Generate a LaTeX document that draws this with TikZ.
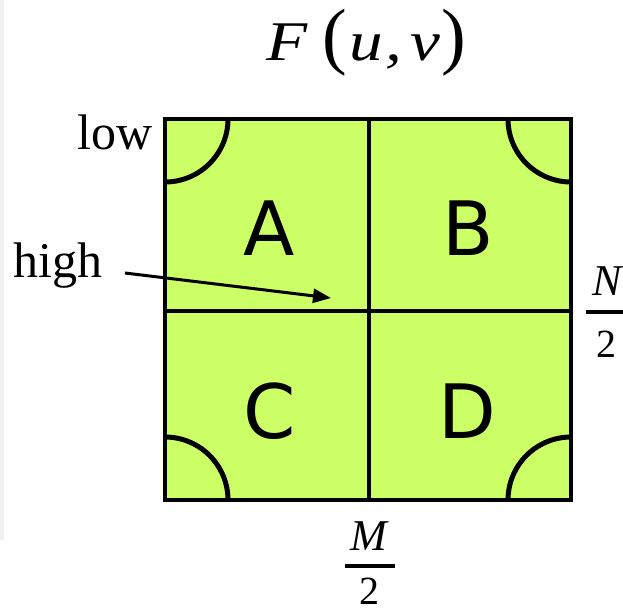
\documentclass[tikz,border=0pt]{standalone}
\usepackage{fontspec}
\setmainfont{Liberation Serif}
\newfontfamily\lettersf{DejaVu Sans}
\newfontfamily\titlefont[FakeStretch=1.2]{Liberation Serif}
\usetikzlibrary{arrows.meta}
\definecolor{quadgreen}{RGB}{204,255,102}
\begin{document}
\begin{tikzpicture}[x=1pt,y=-1pt,
  lbl/.style={inner sep=0pt, font=\fontsize{50}{50}\selectfont},
  quad/.style={inner sep=0pt, anchor=base, font=\lettersf\fontsize{75}{75}\selectfont},
  fracnum/.style={inner sep=0pt, anchor=base, font=\fontsize{44}{44}\selectfont\itshape},
  fracden/.style={inner sep=0pt, anchor=base, font=\fontsize{40}{40}\selectfont},
  fracbar/.style={line width=3.2pt},
  frame/.style={line width=3.4pt},
  divider/.style={line width=3.4pt},
  corner/.style={line width=5pt},
  pointer/.style={line width=3pt, -{Triangle[length=18pt,width=14pt]}}]
\useasboundingbox (0,0) rectangle (623,611);
\fill[white] (0,0) rectangle (623,611);
\fill[gray!12] (0,0) rectangle (4,540);
% square
\coordinate (tl) at (165,119);
\coordinate (br) at (571,500);
\coordinate (tm) at (369,119);
\coordinate (bm) at (369,500);
\coordinate (lm) at (165,311);
\coordinate (rm) at (571,311);
\fill[quadgreen] (tl) rectangle (br);
\begin{scope}
  \clip (tl) rectangle (br);
  \draw[corner] (165,119) circle[radius=63pt];
  \draw[corner] (571,119) circle[radius=63pt];
  \draw[corner] (165,500) circle[radius=63pt];
  \draw[corner] (571,500) circle[radius=63pt];
\end{scope}
\draw[divider] (tm) -- (bm);
\draw[divider] (lm) -- (rm);
\draw[frame] (tl) rectangle (br);
% quadrant letters
\node[quad] (A) at (269,255) {A};
\node[quad] (B) at (468,255) {B};
\node[quad] (C) at (270,438) {C};
\node[quad] (D) at (467,438) {D};
% title
\node[anchor=base west, inner sep=0pt] (title) at (266,60)
  {\titlefont\fontsize{56}{56}\selectfont\itshape F\kern15pt{\rmfamily\upshape\fontsize{74}{74}\selectfont(}\kern3pt u\kern2pt,\kern8pt v\kern1pt{\rmfamily\upshape\fontsize{74}{74}\selectfont)}};
% side labels
\node[lbl, anchor=base east] (low) at (153,149) {low};
\node[lbl, anchor=base west] (high) at (13,277) {high};
\coordinate (hs) at (125,273);
\coordinate (he) at (331,298);
\draw[pointer] (hs) -- (he);
% M/2
\node[fracnum] (M) at (369,550) {M};
\node[fracden] (two1) at (369,604) {2};
\coordinate (mb1) at (345,566);
\coordinate (mb2) at (395,566);
\draw[fracbar] (mb1) -- (mb2);
% N/2
\node[fracnum] (N) at (607,295) {N};
\node[fracden] (two2) at (606,357) {2};
\coordinate (nb1) at (586,312);
\coordinate (nb2) at (630,312);
\draw[fracbar] (nb1) -- (nb2);
\end{tikzpicture}
\end{document}
